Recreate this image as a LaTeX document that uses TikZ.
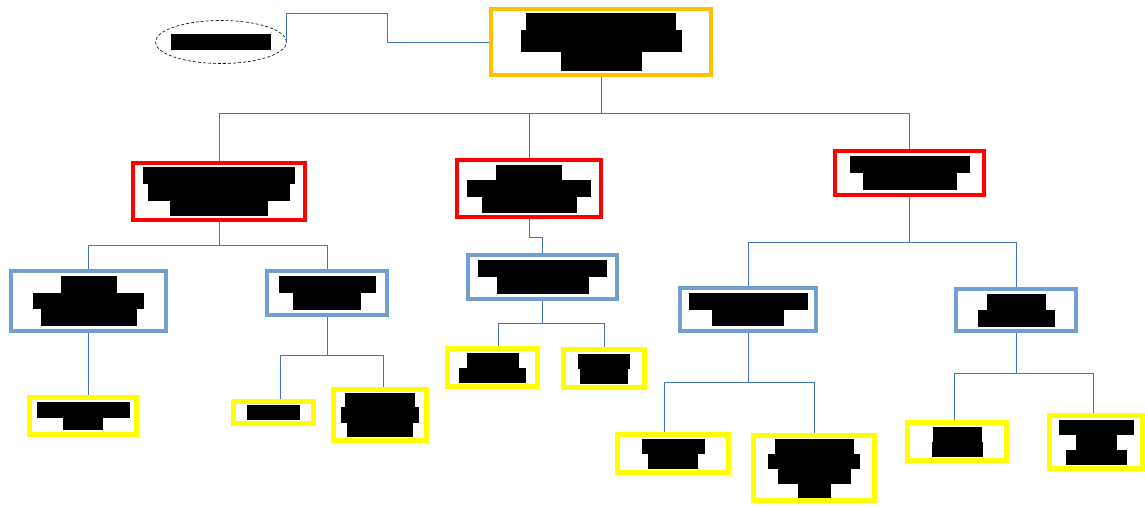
\documentclass[tikz,border=0pt]{standalone}
\usetikzlibrary{shapes.geometric}
\definecolor{boxorange}{HTML}{FFC000}
\definecolor{boxred}{HTML}{FF0000}
\definecolor{boxblue}{HTML}{729FCF}
\definecolor{boxyellow}{HTML}{FFFF00}
\definecolor{linkblue}{HTML}{4472C4}
% redacted text: one black bar per line
\newcommand{\inkbar}[2]{\rule{#1pt}{#2pt}\cr}
\newcommand{\inkstack}[1]{\vbox{\offinterlineskip\halign{\hfil##\hfil\cr#1}}}
\tikzset{
  box/.style={draw, rectangle, inner sep=0pt, fill=white},
  boxsize/.style 2 args={minimum width=#1pt, minimum height=#2pt},
  orangebox/.style={box, draw=boxorange, line width=4pt},
  redbox/.style={box, draw=boxred, line width=4pt},
  bluebox/.style={box, draw=boxblue, line width=4pt},
  yellowbox/.style={box, draw=boxyellow, line width=5pt},
  tagoval/.style={draw, ellipse, densely dashed, line width=0.6pt, inner xsep=-4pt, inner ysep=0pt},
  link/.style={draw=linkblue, line width=1pt},
}
\begin{document}
\begin{tikzpicture}[x=1pt,y=-1pt]
\useasboundingbox (0,0) rectangle (1145,506);
% root and its tag
\node[tagoval,boxsize={131}{43}] (tag) at (221,42) {\inkstack{\inkbar{100}{16}}};
\node[orangebox,boxsize={220}{66}] (root) at (601,42) {\inkstack{\inkbar{150}{17}\inkbar{161}{22}\inkbar{81}{19}}};
% level 1
\node[redbox,boxsize={172}{57}] (catA) at (219,191.5) {\inkstack{\inkbar{152}{17}\inkbar{142}{17}\inkbar{98}{15}}};
\node[redbox,boxsize={144}{57}] (catB) at (529,188.5) {\inkstack{\inkbar{66}{15}\inkbar{124}{17}\inkbar{95}{16}}};
\node[redbox,boxsize={149}{44}] (catC) at (909.5,173) {\inkstack{\inkbar{120}{17}\inkbar{94}{17}}};
% level 2
\node[bluebox,boxsize={155}{60}] (subAa) at (88.5,301) {\inkstack{\inkbar{56}{17}\inkbar{111}{16}\inkbar{96}{17}}};
\node[bluebox,boxsize={120}{44}] (subAb) at (327,293) {\inkstack{\inkbar{97}{17}\inkbar{68}{17}}};
\node[bluebox,boxsize={149}{44}] (subBa) at (542.5,277) {\inkstack{\inkbar{129}{17}\inkbar{92}{17}}};
\node[bluebox,boxsize={136}{43}] (subCa) at (748,309.5) {\inkstack{\inkbar{119}{17}\inkbar{72}{16}}};
\node[bluebox,boxsize={120}{42}] (subCb) at (1016,310) {\inkstack{\inkbar{59}{16}\inkbar{77}{17}}};
% level 3
\node[yellowbox,boxsize={107}{37}] (leafA) at (83,416) {\inkstack{\inkbar{93}{16}\inkbar{40}{12}}};
\node[yellowbox,boxsize={80}{22}] (leafB) at (273.5,412.5) {\inkstack{\inkbar{53}{15}}};
\node[yellowbox,boxsize={93}{51}] (leafC) at (380,415) {\inkstack{\inkbar{70}{14}\inkbar{78}{16}\inkbar{66}{14}}};
\node[yellowbox,boxsize={90}{38}] (leafD) at (492.5,367.5) {\inkstack{\inkbar{52}{15}\inkbar{67}{15}}};
\node[yellowbox,boxsize={81}{38}] (leafE) at (604,368.5) {\inkstack{\inkbar{52}{15}\inkbar{48}{15}}};
\node[yellowbox,boxsize={111}{38}] (leafF) at (673,453.5) {\inkstack{\inkbar{63}{15}\inkbar{50}{15}}};
\node[yellowbox,boxsize={121}{65}] (leafG) at (814,468) {\inkstack{\inkbar{79}{15}\inkbar{92}{15}\inkbar{73}{15}\inkbar{33}{14}}};
\node[yellowbox,boxsize={99}{38}] (leafH) at (957,441.5) {\inkstack{\inkbar{49}{15}\inkbar{51}{15}}};
\node[yellowbox,boxsize={93}{53}] (leafI) at (1096,442) {\inkstack{\inkbar{75}{15}\inkbar{41}{15}\inkbar{61}{15}}};
% connectors
\draw[link] (tag.east) -- ++(0,-29) -- ++(101,0) |- (root.west);
\foreach \c in {catA,catB,catC}
  \draw[link] (root.south) -- ++(0,36) -| (\c.north);
\draw[link] (catA.south) -- ++(0,23) -| (subAa.north);
\draw[link] (catA.south) -- ++(0,23) -| (subAb.north);
\draw[link] (catB.south) -- ++(0,18) -| (subBa.north);
\draw[link] (catC.south) -- ++(0,45) -| (subCa.north);
\draw[link] (catC.south) -- ++(0,45) -| (subCb.north);
\draw[link] (subAa.south) -- (subAa.south |- leafA.north);
\draw[link] (subAb.south) -- ++(0,38) -| ([xshift=6.5pt]leafB.north);
\draw[link] (subAb.south) -- ++(0,38) -| ([xshift=3pt]leafC.north);
\draw[link] (subBa.south) -- ++(0,22) -| ([xshift=5.5pt]leafD.north);
\draw[link] (subBa.south) -- ++(0,22) -| (leafE.north);
\draw[link] (subCa.south) -- ++(0,49) -| ([xshift=-9pt]leafF.north);
\draw[link] (subCa.south) -- ++(0,49) -| (leafG.north);
\draw[link] (subCb.south) -- ++(0,40) -| ([xshift=-3pt]leafH.north);
\draw[link] (subCb.south) -- ++(0,40) -| ([xshift=-3pt]leafI.north);
\end{tikzpicture}
\end{document}
